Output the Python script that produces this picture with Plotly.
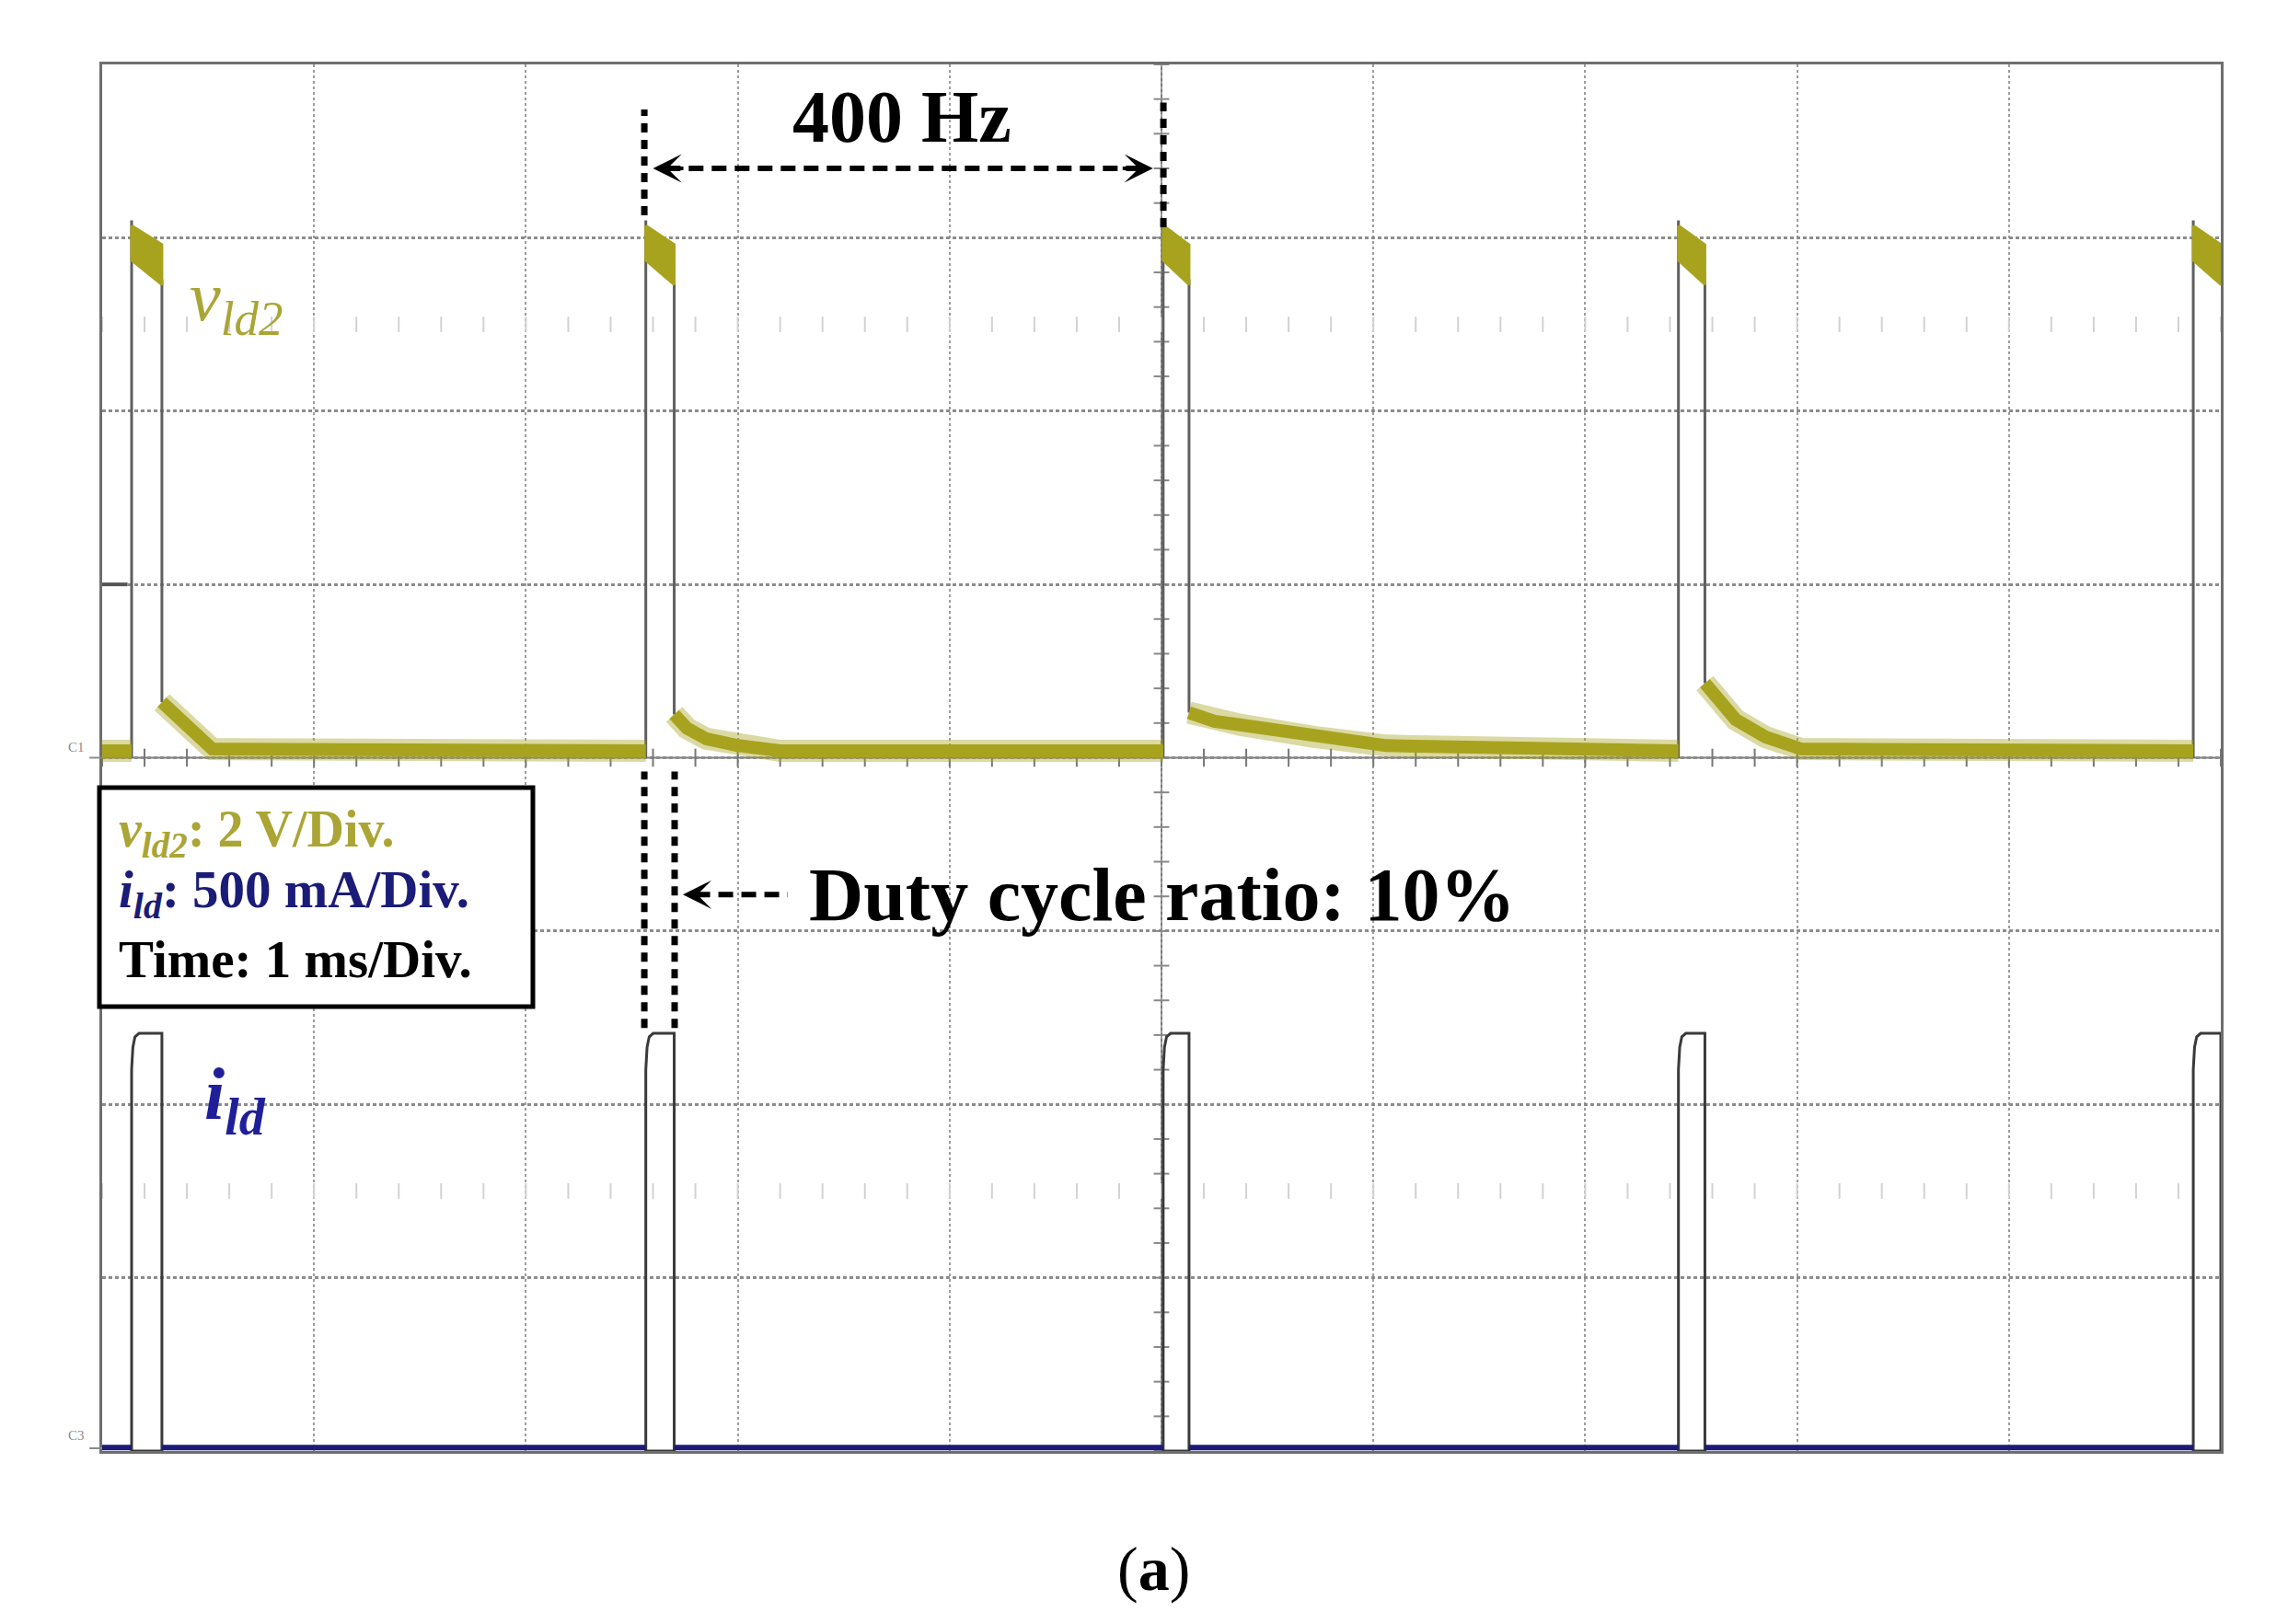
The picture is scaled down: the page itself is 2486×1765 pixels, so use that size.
import numpy as np
import plotly.graph_objects as go

# ---------------- data ----------------
# time axis in ms (1 ms/div, 10 div), vertical axis in screen divisions (0..8, bottom = 0)
rise_ms = [0.139, 2.566, 5.008, 7.440, 9.870]
fall_ms = [0.282, 2.700, 5.130, 7.565, 10.000]   # last pulse is cut by the screen edge

# v_ld2 (channel 1): ground level at 4 div, 2 V/div
v_zero_div = 4.0
v_base_div = 4.04
v_top_upper = [7.07, 6.96]    # upper edge of noisy pulse top (start, end)
v_top_lower = [6.87, 6.73]    # lower edge of noisy pulse top (start, end)
v_fall_end = 6.76
decay_t = [[0.282, 0.52],
           [2.700, 2.76, 2.85, 3.00, 3.20],
           [5.130, 5.25, 5.37, 5.72, 6.06],
           [7.565, 7.65, 7.71, 7.85, 8.02]]
decay_v = [[4.32, 4.05],
           [4.25, 4.17, 4.11, 4.07, 4.04],
           [4.26, 4.21, 4.19, 4.12, 4.07],
           [4.43, 4.30, 4.22, 4.12, 4.05]]

# i_ld (channel 3): zero level at bottom, 500 mA/div
i_base_div = 0.02
i_shoulder_dt = [0.0, 0.0, 0.006, 0.016, 0.035]
i_shoulder_lv = [0.0, 2.20, 2.33, 2.39, 2.41]
i_top_div = 2.41

# ---------------- styles ----------------
OLIVE = '#a8a31e'
OLIVE_TXT = '#aaa535'
NAVY = '#1b1b78'
BLUE_TXT = '#1f1f9a'
EDGE = '#5f5f5f'
SERIF = 'Liberation Serif'

fig = go.Figure()

# faint reference tick rows and centre axis ticks
xt = np.round(np.arange(0, 10.0001, 0.2), 3)
yt = np.round(np.arange(0, 8.0001, 0.2), 3)
for yrow in (6.5, 1.5):
    fig.add_trace(go.Scatter(x=xt, y=[yrow] * len(xt), mode='markers',
                             marker=dict(symbol='line-ns', size=12, line=dict(width=2, color='#d2d2d2')),
                             hoverinfo='skip', showlegend=False))
fig.add_trace(go.Scatter(x=xt, y=[4.0] * len(xt), mode='markers',
                         marker=dict(symbol='line-ns', size=14, line=dict(width=2, color='#777')),
                         hoverinfo='skip', showlegend=False))
fig.add_trace(go.Scatter(x=[5.0] * len(yt), y=yt, mode='markers',
                         marker=dict(symbol='line-ew', size=12, line=dict(width=2, color='#888')),
                         hoverinfo='skip', showlegend=False))

# trigger level marker
fig.add_trace(go.Scatter(x=[0, 0.12], y=[5.0, 5.0], mode='lines',
                         line=dict(color='#555', width=4), hoverinfo='skip', showlegend=False))

# ---- i_ld trace: pulse outlines (dark grey) ----
ix, iy = [], []
for r, f in zip(rise_ms, fall_ms):
    ix += [r + d for d in i_shoulder_dt] + [f, f, r, None]
    iy += i_shoulder_lv + [i_top_div, 0.0, 0.0, None]
fig.add_trace(go.Scatter(x=ix, y=iy, mode='lines', line=dict(color='#3a3a3a', width=3),
                         hoverinfo='skip', showlegend=False))
# baseline between pulses (navy)
bx, by = [0.0, rise_ms[0], None], [i_base_div, i_base_div, None]
for k in range(len(rise_ms) - 1):
    bx += [fall_ms[k], rise_ms[k + 1], None]
    by += [i_base_div, i_base_div, None]
fig.add_trace(go.Scatter(x=bx, y=by, mode='lines', line=dict(color=NAVY, width=6),
                         hoverinfo='skip', showlegend=False))

# ---- v_ld2 trace ----
# fast edges (thin grey)
ex, ey = [], []
for k, (r, f) in enumerate(zip(rise_ms, fall_ms)):
    ex += [r, r, None]
    ey += [v_zero_div, v_top_upper[0] + 0.03, None]
    if k < len(decay_v):
        ex += [f, f, None]
        ey += [v_fall_end, decay_v[k][0], None]
fig.add_trace(go.Scatter(x=ex, y=ey, mode='lines', line=dict(color=EDGE, width=3),
                         hoverinfo='skip', showlegend=False))

# slow parts (thick olive noisy band)
vx, vy = [0.0, rise_ms[0], None], [v_base_div, v_base_div, None]
for k in range(len(decay_t)):
    vx += decay_t[k] + [rise_ms[k + 1], None]
    vy += decay_v[k] + [v_base_div, None]
fig.add_trace(go.Scatter(x=vx, y=vy, mode='lines', line=dict(color=OLIVE, width=24),
                         opacity=0.4, hoverinfo='skip', showlegend=False))
fig.add_trace(go.Scatter(x=vx, y=vy, mode='lines', line=dict(color=OLIVE, width=14),
                         hoverinfo='skip', showlegend=False))
# noisy pulse tops
for r, f in zip(rise_ms, fall_ms):
    fig.add_trace(go.Scatter(x=[r, f, f, r, r],
                             y=[v_top_upper[0], v_top_upper[1], v_top_lower[1], v_top_lower[0], v_top_upper[0]],
                             mode='lines', fill='toself', fillcolor=OLIVE,
                             line=dict(color=OLIVE, width=3), hoverinfo='skip', showlegend=False))

# ---------------- annotation graphics ----------------
def dline(x, y, width, dash):
    fig.add_trace(go.Scatter(x=x, y=y, mode='lines', line=dict(color='black', width=width, dash=dash),
                             hoverinfo='skip', showlegend=False))

# 400 Hz markers
dline([2.559, 2.559], [7.13, 7.74], 7, '10px,8px')
dline([5.009, 5.009], [7.06, 7.78], 7, '10px,8px')
dline([2.66, 4.90], [7.40, 7.40], 6, '16px,9px')
# duty cycle markers
dline([2.559, 2.559], [2.44, 3.92], 7, '10px,8px')
dline([2.702, 2.702], [2.44, 3.92], 7, '10px,8px')
dline([2.80, 3.236], [3.21, 3.21], 6, '16px,9px')

annotations = []
def arrowhead(xtip, xtail, y):
    annotations.append(dict(x=xtip, y=y, ax=xtail, ay=y, xref='x', yref='y', axref='x', ayref='y',
                            text='', showarrow=True, arrowhead=3, arrowsize=1.3, arrowwidth=4,
                            arrowcolor='black', standoff=0, startstandoff=0))
arrowhead(2.60, 2.75, 7.40)
arrowhead(4.96, 4.81, 7.40)
arrowhead(2.741, 2.86, 3.21)

def txt(x, y, s, size, color='black', xanchor='left', xref='x', yref='y', yanchor='middle'):
    annotations.append(dict(x=x, y=y, xref=xref, yref=yref, text=s, showarrow=False,
                            xanchor=xanchor, yanchor=yanchor,
                            font=dict(family=SERIF, size=size, color=color)))

txt(3.775, 7.70, '<b>400 Hz</b>', 80, xanchor='center')
txt(3.327, 3.21, '<b>Duty cycle ratio: 10%</b>', 82)
txt(0.405, 6.63, '<i>v</i><sub><i>ld2</i></sub>', 76, OLIVE_TXT)
txt(0.475, 2.03, '<b><i>i</i><sub><i>ld</i></sub></b>', 80, BLUE_TXT)
txt(-0.0075, 0.5076, 'C1', 15, '#8a8a8a', xanchor='right', xref='paper', yref='paper')
txt(-0.0075, 0.0110, 'C3', 15, '#8a8a8a', xanchor='right', xref='paper', yref='paper')
txt(0.4961, -0.0850, '(<b>a</b>)', 68, xanchor='center', xref='paper', yref='paper')

# scale box
txt(0.00695, 0.4460, '<b><i>v</i><sub><i>ld2</i></sub>: 2 V/Div.</b>', 56, OLIVE_TXT, xref='paper', yref='paper')
txt(0.00695, 0.4020, '<b><i>i</i><sub><i>ld</i></sub>: 500 mA/Div.</b>', 57, NAVY, xref='paper', yref='paper')
txt(0.00695, 0.3550, '<b>Time: 1 ms/Div.</b>', 57, 'black', xref='paper', yref='paper')

shapes = [
    dict(type='line', xref='x', yref='y', x0=5, x1=5, y0=0, y1=8, line=dict(color='#7a7a7a', width=2), layer='below'),
    dict(type='line', xref='x', yref='y', x0=0, x1=10, y0=4, y1=4, line=dict(color='#7a7a7a', width=2), layer='below'),
    dict(type='line', xref='paper', yref='paper', x0=-0.006, x1=0, y0=0.5, y1=0.5, line=dict(color='#8a8a8a', width=2)),
    dict(type='line', xref='paper', yref='paper', x0=-0.006, x1=0, y0=0.002, y1=0.002, line=dict(color='#8a8a8a', width=2)),
    dict(type='rect', xref='paper', yref='paper', x0=-0.0013, x1=0.2033, y0=0.3205, y1=0.4784,
         line=dict(color='black', width=5), fillcolor='white', layer='above'),
]

fig.update_layout(
    width=2486, height=1765,
    margin=dict(l=111, r=73, t=70, b=188, pad=0),
    paper_bgcolor='white', plot_bgcolor='white',
    showlegend=False,
    annotations=annotations,
    shapes=shapes,
    xaxis=dict(range=[0, 10], tick0=0, dtick=1, showgrid=True, gridcolor='#9c9c9c', gridwidth=2,
               griddash='dot', showline=True, mirror=True, linecolor='#6e6e6e', linewidth=3,
               showticklabels=False, ticks='', zeroline=False, fixedrange=True),
    yaxis=dict(range=[0, 8], tick0=0, dtick=1, showgrid=True, gridcolor='#8c8c8c', gridwidth=3,
               griddash='4px,3px', showline=True, mirror=True, linecolor='#6e6e6e', linewidth=3,
               showticklabels=False, ticks='', zeroline=False, fixedrange=True),
)

fig.write_html("out.html", config={'displayModeBar': False},
               post_script="document.body.style.margin='0';document.body.style.overflow='hidden';")
